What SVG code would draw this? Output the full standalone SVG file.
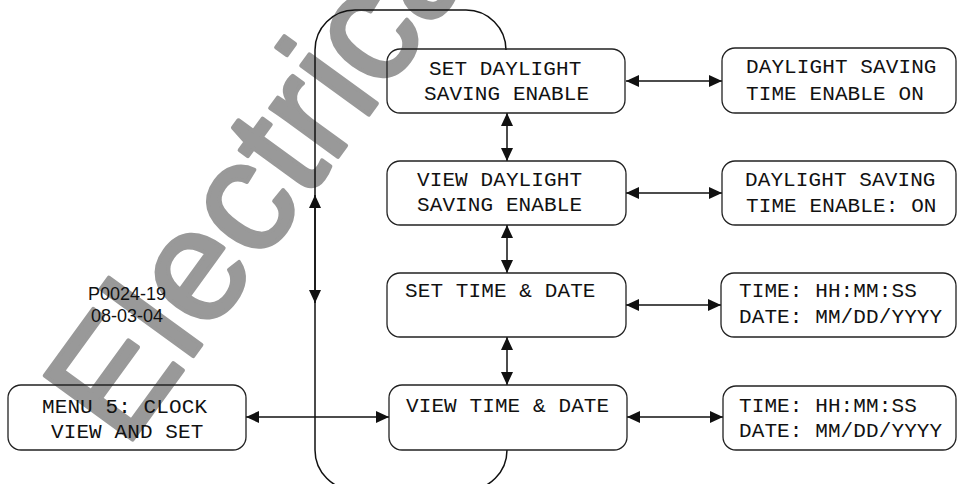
<svg xmlns="http://www.w3.org/2000/svg" width="958" height="484" viewBox="0 0 958 484">
<style>
.box{fill:none;stroke:#222;stroke-width:1.3}
.t{font-family:"Liberation Mono","DejaVu Sans Mono",monospace;font-size:21px;letter-spacing:0.1px;fill:#111}
.c{fill:none;stroke:#111;stroke-width:1.5}
.a{fill:none;stroke:#111;stroke-width:1.5;marker-start:url(#ah);marker-end:url(#ah)}
.id{font-family:"Liberation Sans",Arial,sans-serif;font-size:18px;fill:#111;text-anchor:middle}
.wm{font-family:"Liberation Sans",Arial,sans-serif;font-size:158px;fill:#999;stroke:#999;stroke-width:4;stroke-linejoin:round}
</style>
<defs>
<marker id="ah" markerUnits="userSpaceOnUse" markerWidth="14" markerHeight="12" refX="13" refY="6" orient="auto-start-reverse">
<path d="M0,0 L13,6 L0,12 z" fill="#111"/>
</marker>
</defs>
<text class="wm" transform="translate(125,450) rotate(-54)">Electrical4U</text>
<g id="connectors">
<path class="c" d="M506 49 L506 50 A40 40 0 0 0 466 10 L355 10 A40 40 0 0 0 315 50 L315 450 A40 40 0 0 0 355 490 L467 490 A40 40 0 0 0 507 450"/>
<line class="a" x1="315" y1="303" x2="315" y2="195"/>
<line class="a" x1="246" y1="417" x2="389" y2="417"/>
<line class="a" x1="507" y1="113" x2="507" y2="161"/>
<line class="a" x1="507" y1="225" x2="507" y2="273"/>
<line class="a" x1="507" y1="337" x2="507" y2="385"/>
<line class="a" x1="626" y1="81" x2="722" y2="81"/>
<line class="a" x1="626" y1="193" x2="722" y2="193"/>
<line class="a" x1="626" y1="305" x2="721" y2="305"/>
<line class="a" x1="627" y1="417" x2="723" y2="417"/>
</g>
<g id="label-id">
<text class="id" x="127" y="300">P0024-19</text>
<text class="id" x="127" y="322">08-03-04</text>
</g>
<g id="menu5">
<rect class="box" x="8" y="385" width="238" height="65" rx="13"/>
<text class="t" x="42" y="413">MENU 5: CLOCK</text>
<text class="t" x="51" y="438">VIEW AND SET</text>
</g>
<g id="set-dst">
<rect class="box" x="387" y="49" width="238" height="64" rx="13"/>
<text class="t" x="429" y="75">SET DAYLIGHT</text>
<text class="t" x="424" y="100">SAVING ENABLE</text>
</g>
<g id="view-dst">
<rect class="box" x="387" y="161" width="239" height="64" rx="13"/>
<text class="t" x="417" y="186">VIEW DAYLIGHT</text>
<text class="t" x="417" y="211">SAVING ENABLE</text>
</g>
<g id="set-time">
<rect class="box" x="387" y="273" width="239" height="64" rx="13"/>
<text class="t" x="405" y="297">SET TIME &amp; DATE</text>
</g>
<g id="view-time">
<rect class="box" x="389" y="385" width="238" height="65" rx="13"/>
<text class="t" x="406" y="412">VIEW TIME &amp; DATE</text>
</g>
<g id="dst-on-1">
<rect class="box" x="722" y="48" width="234" height="65" rx="13"/>
<text class="t" x="746" y="73">DAYLIGHT SAVING</text>
<text class="t" x="746" y="100">TIME ENABLE ON</text>
</g>
<g id="dst-on-2">
<rect class="box" x="722" y="161" width="234" height="64" rx="13"/>
<text class="t" x="745" y="186">DAYLIGHT SAVING</text>
<text class="t" x="746" y="212">TIME ENABLE: ON</text>
</g>
<g id="time-1">
<rect class="box" x="721" y="273" width="235" height="64" rx="13"/>
<text class="t" x="739" y="297">TIME: HH:MM:SS</text>
<text class="t" x="739" y="323">DATE: MM/DD/YYYY</text>
</g>
<g id="time-2">
<rect class="box" x="723" y="386" width="233" height="64" rx="13"/>
<text class="t" x="739" y="412">TIME: HH:MM:SS</text>
<text class="t" x="739" y="437">DATE: MM/DD/YYYY</text>
</g>
</svg>
